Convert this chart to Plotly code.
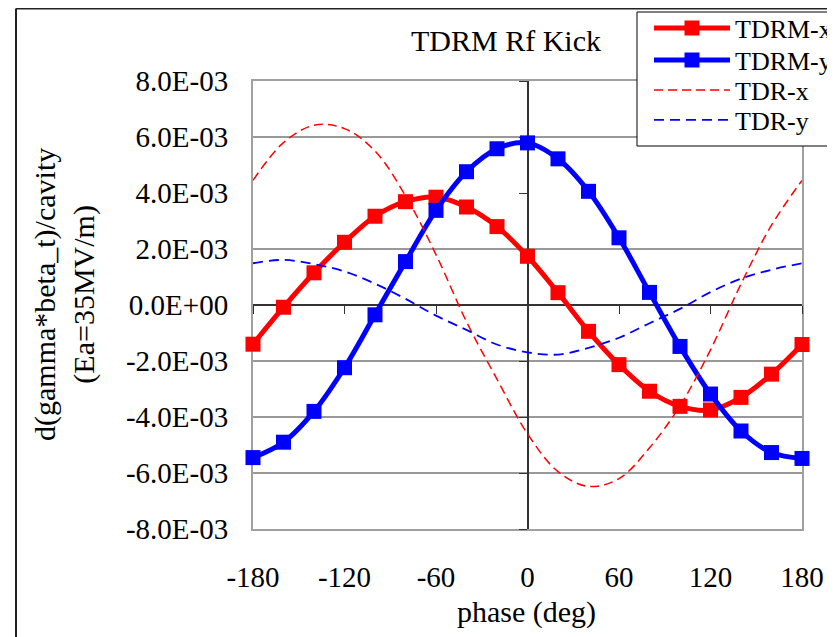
import plotly.graph_objects as go

# ---------------- data ----------------
phase_deg = [-180, -160, -140, -120, -100, -80, -60, -40, -20, 0,
             20, 40, 60, 80, 100, 120, 140, 160, 180]

tdrm_x = [-1.40e-3, -0.08e-3, 1.15e-3, 2.24e-3, 3.17e-3, 3.69e-3, 3.85e-3, 3.50e-3, 2.80e-3, 1.74e-3,
          0.44e-3, -0.94e-3, -2.13e-3, -3.08e-3, -3.62e-3, -3.75e-3, -3.30e-3, -2.47e-3, -1.41e-3]

tdrm_y = [-5.45e-3, -4.90e-3, -3.80e-3, -2.24e-3, -0.35e-3, 1.55e-3, 3.38e-3, 4.76e-3, 5.58e-3, 5.79e-3,
          5.22e-3, 4.06e-3, 2.40e-3, 0.45e-3, -1.48e-3, -3.18e-3, -4.50e-3, -5.27e-3, -5.48e-3]

tdr_x = [4.45e-3, 5.80e-3, 6.42e-3, 6.30e-3, 5.50e-3, 3.90e-3, 1.80e-3, -0.60e-3, -2.65e-3, -4.60e-3,
         -5.95e-3, -6.48e-3, -6.20e-3, -5.10e-3, -3.60e-3, -1.60e-3, 0.75e-3, 2.85e-3, 4.45e-3]

tdr_y = [1.49e-3, 1.61e-3, 1.46e-3, 1.20e-3, 0.76e-3, 0.22e-3, -0.38e-3, -0.89e-3, -1.41e-3, -1.69e-3,
         -1.77e-3, -1.53e-3, -1.17e-3, -0.65e-3, -0.14e-3, 0.46e-3, 0.94e-3, 1.26e-3, 1.49e-3]

series_names = ["TDRM-x", "TDRM-y", "TDR-x", "TDR-y"]

x_tick_vals = [-180, -120, -60, 0, 60, 120, 180]
x_tick_text = ["-180", "-120", "-60", "0", "60", "120", "180"]
y_tick_vals = [8e-3, 6e-3, 4e-3, 2e-3, 0.0, -2e-3, -4e-3, -6e-3, -8e-3]
y_tick_text = ["8.0E-03", "6.0E-03", "4.0E-03", "2.0E-03", "0.0E+00",
               "-2.0E-03", "-4.0E-03", "-6.0E-03", "-8.0E-03"]
grid_y_vals = [6e-3, 2e-3, -2e-3, -4e-3, -6e-3]

chart_title = "TDRM Rf Kick"
x_title = "phase (deg)"
y_title = "d(gamma*beta_t)/cavity<br>(Ea=35MV/m)"

# ---------------- layout constants ----------------
W, H = 835, 637
OFF = 8  # page body margin: page px = figure px + OFF
PL, PR, PT, PB = 253, 802, 81, 529  # plot area in page pixels
ML, MT = PL - OFF, PT - OFF
MR, MB = W - (PR - OFF), H - (PB - OFF)
PW, PH = W - ML - MR, H - MT - MB


def px_x(page_x):
    return (page_x - OFF - ML) / PW


def px_y(page_y):
    return (H - MB - (page_y - OFF)) / PH


FONT = "Times New Roman, Liberation Serif, DejaVu Serif, serif"
RED = "#ff0000"
BLUE = "#0000ff"

styles = [
    dict(mode="lines+markers", line=dict(color=RED, width=5, shape="spline"),
         marker=dict(symbol="square", size=15, color=RED), cliponaxis=False),
    dict(mode="lines+markers", line=dict(color=BLUE, width=5, shape="spline"),
         marker=dict(symbol="square", size=15, color=BLUE), cliponaxis=False),
    dict(mode="lines", line=dict(color=RED, width=1.5, dash="9px,5px", shape="spline")),
    dict(mode="lines", line=dict(color=BLUE, width=1.8, dash="10px,6px", shape="spline")),
]
series_vals = [tdrm_x, tdrm_y, tdr_x, tdr_y]
legend_ids = ["legend", "legend2", "legend3", "legend4"]
legend_rows_page_y = [28, 60, 90, 120]

fig = go.Figure()
for name, vals, st, lid in zip(series_names, series_vals, styles, legend_ids):
    fig.add_trace(go.Scatter(x=phase_deg, y=vals, name=name, legend=lid, **st))
# dummy trace so the overlaid zero-axes get drawn
fig.add_trace(go.Scatter(x=[None], y=[None], xaxis="x2", yaxis="y2",
                         showlegend=False, hoverinfo="skip"))

shapes = []
for gv in grid_y_vals:
    shapes.append(dict(type="line", xref="paper", x0=0, x1=1, yref="y", y0=gv, y1=gv,
                       line=dict(color="#333333", width=1), layer="below"))
# outer chart frame (top and left edges)
shapes.append(dict(type="line", xref="paper", yref="paper",
                   x0=px_x(16), x1=px_x(W + 20), y0=px_y(8.5), y1=px_y(8.5),
                   line=dict(color="#222222", width=2)))
shapes.append(dict(type="line", xref="paper", yref="paper",
                   x0=px_x(16), x1=px_x(16), y0=px_y(8.5), y1=px_y(H + 20),
                   line=dict(color="#222222", width=2)))
# legend frame
shapes.append(dict(type="rect", xref="paper", yref="paper",
                   x0=px_x(637), x1=px_x(W + 30), y0=px_y(12), y1=px_y(146),
                   fillcolor="white", line=dict(color="black", width=1), layer="above"))

legends = {}
for lid, ly in zip(legend_ids, legend_rows_page_y):
    legends[lid] = dict(x=px_x(649), y=px_y(ly), xanchor="left", yanchor="middle",
                        bgcolor="rgba(0,0,0,0)", borderwidth=0,
                        font=dict(family=FONT, size=26, color="black"),
                        itemwidth=76)

annotations = [
    dict(text=x_title, xref="paper", yref="paper", x=px_x(526), y=px_y(612),
         xanchor="center", yanchor="middle", showarrow=False,
         font=dict(family=FONT, size=30, color="black")),
    dict(text=y_title, xref="paper", yref="paper", x=px_x(64), y=px_y(295),
         xanchor="center", yanchor="middle", showarrow=False, textangle=-90,
         font=dict(family=FONT, size=30, color="black")),
]

fig.update_layout(
    width=W, height=H,
    margin=dict(l=ML, r=MR, t=MT, b=MB, autoexpand=False),
    paper_bgcolor="white", plot_bgcolor="white",
    font=dict(family=FONT, size=29, color="black"),
    title=dict(text=chart_title, font=dict(family=FONT, size=30, color="black"),
               x=px_x(506), xref="paper", xanchor="center",
               y=1 - (40 - OFF) / H, yref="container", yanchor="middle"),
    showlegend=True,
    shapes=shapes,
    annotations=annotations,
    xaxis=dict(range=[-180, 180], tickvals=x_tick_vals, ticktext=x_tick_text,
               ticks="", showgrid=False, zeroline=False,
               showline=True, mirror=True, linecolor="#a0a0a0", linewidth=2,
               ticklabelstandoff=21, layer="below traces"),
    yaxis=dict(range=[-8e-3, 8e-3], tickvals=y_tick_vals, ticktext=y_tick_text,
               ticks="", showgrid=False, zeroline=False,
               showline=True, mirror=True, linecolor="#a0a0a0", linewidth=2,
               ticklabelstandoff=17, layer="below traces"),
    xaxis2=dict(overlaying="x", anchor="free", position=0.5, side="bottom",
                range=[-180, 180], tickvals=x_tick_vals, ticks="outside", ticklen=8,
                tickcolor="#333333", tickwidth=1, showticklabels=False,
                showline=True, linecolor="#333333", linewidth=1.5,
                showgrid=False, zeroline=False, layer="below traces"),
    yaxis2=dict(overlaying="y", anchor="free", position=0.5, side="left",
                range=[-8e-3, 8e-3], tickvals=y_tick_vals, ticks="outside", ticklen=8,
                tickcolor="#333333", tickwidth=1, showticklabels=False,
                showline=True, linecolor="#333333", linewidth=1.5,
                showgrid=False, zeroline=False, layer="below traces"),
    **legends,
)

fig.write_html("out.html")
